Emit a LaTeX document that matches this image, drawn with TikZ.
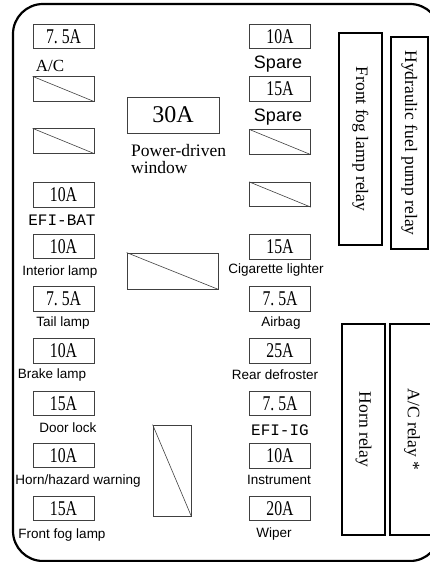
\documentclass[tikz,border=0pt]{standalone}
\usepackage{fontspec}
\setmainfont{Liberation Serif}
\setsansfont{Liberation Sans}
\setmonofont{Liberation Mono}
\newfontfamily\ampfont[FakeStretch=0.75]{Liberation Serif}
\newcommand{\fusefont}{\ampfont\fontsize{21}{21}\selectfont}
\newcommand{\bigampfont}{\rmfamily\fontsize{24}{24}\selectfont}
\newcommand{\relayfont}{\rmfamily\fontsize{17.5}{17.5}\selectfont}
\newcommand{\smallsans}{\sffamily\fontsize{13.5}{13.5}\selectfont}
\newcommand{\sparefont}{\sffamily\fontsize{18}{18}\selectfont}
\newcommand{\codefont}{\ttfamily\fontsize{16}{16}\selectfont}
\tikzset{
  fusebox/.style={draw=black!75, line width=0.8pt, minimum width=61pt,
    minimum height=24.5pt, inner sep=0pt, font=\fusefont},
  relaybox/.style={draw, line width=1.8pt, inner sep=0pt, rotate=-90,
    font=\relayfont},
  sanstext/.style={anchor=base, inner sep=0pt, font=\smallsans},
  cross/.style={draw=black!75, line width=0.6pt}
}
\begin{document}
\begin{tikzpicture}[x=1pt, y=-1pt]
    \useasboundingbox (0,0) rectangle (430,562);
    \clip (0,0) rectangle (430,562);
    % 1. Outer frame of the box
    \draw[line width=2.2pt, rounded corners=30pt] (13,4) rectangle (440,561);

    % 2. Left column of fuses
    \node[fusebox] (L1) at (63.5,36.5) {7.\ 5A};
    \node[fusebox] (L2) at (63.5,89) {};
    \node[fusebox] (L3) at (63.5,141) {};
    \node[fusebox] (L4) at (63.5,195) {10A};
    \node[fusebox] (L5) at (63.5,246.5) {10A};
    \node[fusebox] (L6) at (63.5,299) {7.\ 5A};
    \node[fusebox] (L7) at (63.5,351) {10A};
    \node[fusebox] (L8) at (63.5,403.5) {15A};
    \node[fusebox] (L9) at (63.5,455.5) {10A};
    \node[fusebox] (L10) at (63.5,508.5) {15A};
    \draw[cross] (L2.north west) -- (L2.south east);
    \draw[cross] (L3.north west) -- (L3.south east);

    \node[anchor=base, inner sep=0pt, font=\rmfamily\fontsize{17}{17}\selectfont] (tAC) at (50,71) {A/C};
    \node[anchor=base, inner sep=0pt, font=\codefont] (tBAT) at (62,225) {EFI-BAT};
    \node[sanstext] (tInt) at (60,275) {Interior lamp};
    \node[sanstext] (tTail) at (63,326) {Tail lamp};
    \node[sanstext] (tBrake) at (52,378) {Brake lamp};
    \node[sanstext] (tDoor) at (68,432) {Door lock};
    \node[sanstext] (tHorn) at (78,484) {Horn/hazard warning};
    \node[sanstext] (tFog) at (62,538) {Front fog lamp};

    % 3. Middle fuses
    \node[fusebox, minimum width=92pt, minimum height=36pt, font=\bigampfont] (P30) at (173,115) {30A};
    \node[anchor=north west, inner sep=0pt, align=left, font=\rmfamily\fontsize{17.5}{17.5}\selectfont] (tWin) at (131,144) {Power-driven\\window};
    \node[fusebox, minimum width=91pt, minimum height=36pt] (M1) at (172.5,271) {};
    \node[fusebox, minimum width=38pt, minimum height=91pt] (M2) at (172,470.5) {};
    \draw[cross] (M1.north west) -- (M1.south east);
    \draw[cross] (M2.north west) -- (M2.south east);

    % 4. Right column of fuses
    \node[fusebox] (R1) at (280,36.5) {10A};
    \node[fusebox] (R2) at (280,89) {15A};
    \node[fusebox] (R3) at (280,142) {};
    \node[fusebox] (R4) at (280,194.5) {};
    \node[fusebox] (R5) at (280,247) {15A};
    \node[fusebox] (R6) at (280,299) {7.\ 5A};
    \node[fusebox] (R7) at (280,351) {25A};
    \node[fusebox] (R8) at (280,403.5) {7.\ 5A};
    \node[fusebox] (R9) at (280,456) {10A};
    \node[fusebox] (R10) at (280,508.5) {20A};
    \draw[cross] (R3.north west) -- (R3.south east);
    \draw[cross] (R4.north west) -- (R4.south east);

    \node[anchor=base, inner sep=0pt, font=\sparefont] (tSp1) at (278,68) {Spare};
    \node[anchor=base, inner sep=0pt, font=\sparefont] (tSp2) at (278,121) {Spare};
    \node[sanstext] (tCig) at (276,273) {Cigarette lighter};
    \node[sanstext] (tAir) at (281,326) {Airbag};
    \node[sanstext] (tRear) at (275,379) {Rear defroster};
    \node[anchor=base, inner sep=0pt, font=\codefont] (tIG) at (280,435) {EFI-IG};
    \node[sanstext] (tInst) at (279,484) {Instrument};
    \node[sanstext] (tWip) at (274,537) {Wiper};

    % 5. Relays
    \node[relaybox, minimum width=212pt, minimum height=43pt] (fogrelay) at (360.5,139) {Front fog lamp relay};
    \node[relaybox, minimum width=212pt, minimum height=37pt] (pumprelay) at (409.5,143) {Hydraulic fuel pump relay};
    \node[relaybox, minimum width=211pt, minimum height=43pt] (hornrelay) at (363.5,429.5) {Horn relay};
    \node[relaybox, minimum width=211pt, minimum height=44pt] (acrelay) at (412,429.5) {A/C relay *};
\end{tikzpicture}
\end{document}
